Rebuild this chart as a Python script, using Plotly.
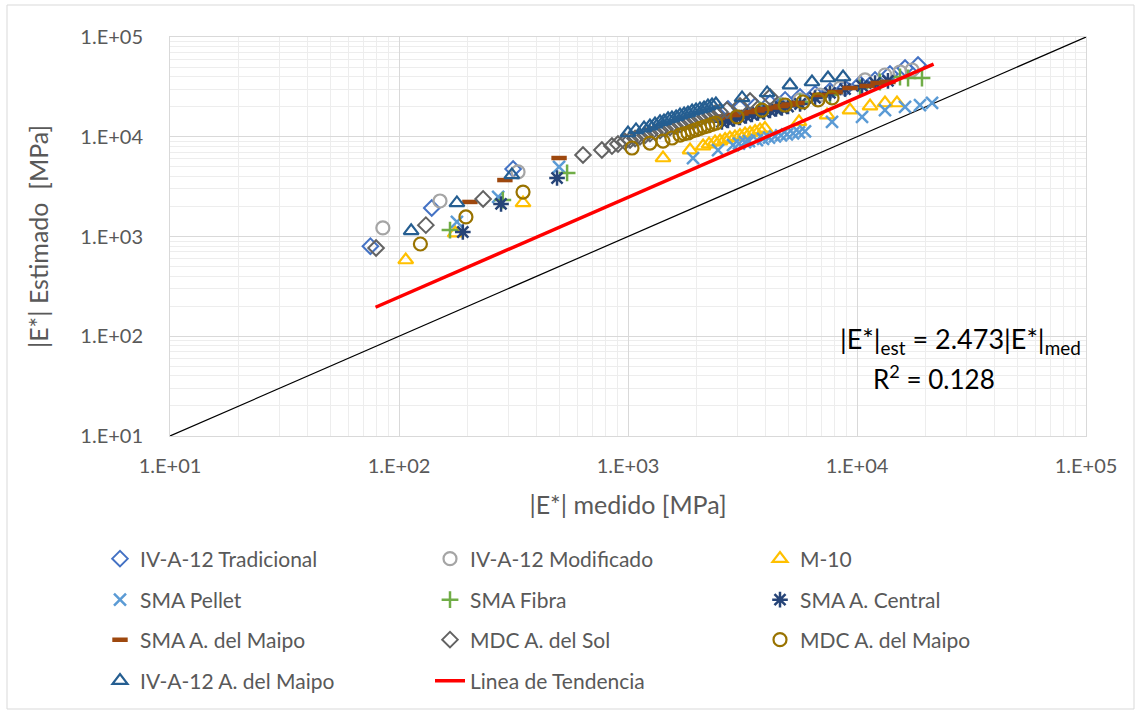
import plotly.graph_objects as go

# |E*| medido [MPa] vs |E*| estimado [MPa] for each mixture
trad_med = [75, 139, 315, 2733, 3083, 3590, 4170, 4853, 5640, 6560, 7620, 8870, 10310, 11990, 13930, 16210, 18470]
trad_est = [800, 1930, 4750, 19000, 19400, 20300, 21800, 23400, 25000, 26800, 28800, 30800, 33800, 37100, 42600, 48900, 52400]

modif_med = [85, 151, 331, 4610, 5640, 6890, 8440, 10840, 13250, 15410, 17390]
modif_est = [1220, 2270, 4440, 21300, 23400, 26200, 30800, 37100, 41600, 44600, 46700]

m10_med = [107, 176, 348, 1422, 1866, 2128, 2259, 2399, 2523, 2655, 2786, 2933, 3083, 3243, 3412, 3590,
           3770, 3963, 5580, 7400, 9320, 11400, 13250, 14950]
m10_est = [581, 1080, 2170, 6120, 7360, 8070, 8450, 8850, 9060, 9380, 9710, 9950, 10300, 10660, 10900, 11300,
           11700, 12110, 14100, 16500, 18500, 20300, 21800, 21800]

pellet_med = [179, 271, 500, 1923, 2473, 2875, 3053, 3243, 3375, 3656, 3890, 4130, 4385, 4660, 4945, 5260,
              5580, 5930, 7780, 10520, 13250, 16210, 18840, 21270]
pellet_est = [1400, 2490, 4980, 6120, 7360, 8260, 8550, 8850, 9060, 9270, 9500, 9820, 10060, 10300, 10550, 10800,
              11050, 11310, 14100, 15800, 18500, 19900, 20800, 21800]

fibra_med = [167, 284, 542, 3770, 4610, 5640, 7620, 10310, 12590, 15410, 16710, 19220]
fibra_est = [1160, 2320, 4340, 18500, 20300, 22300, 26200, 30800, 35400, 39700, 38800, 38800]

central_med = [190, 279, 490, 2572, 2733, 2904, 3083, 3273, 3476, 3694, 3927, 4170, 4430, 4700, 5000, 5640,
               6560, 7620, 8870, 10520, 11990, 13650]
central_est = [1110, 2120, 3860, 14100, 14550, 15070, 15600, 16150, 16720, 17300, 17700, 18330, 18970, 19400,
               20100, 21300, 24500, 27500, 30100, 32300, 34600, 36300]

sma_maipo_med = [204, 290, 500, 2449, 2655, 2875, 3112, 3375, 3656, 3963, 4296, 4660, 5047, 5470, 6890, 8020,
                 9320, 11060, 12360, 13650]
sma_maipo_est = [2220, 3680, 6120, 15400, 15960, 16500, 17100, 17700, 18330, 18970, 19630, 20320, 21030, 21800,
                 26200, 28100, 30800, 32300, 34600, 35400]

mdc_sol_med = [79.4, 131, 233, 636, 769, 851, 904, 970, 1021, 1074, 1128, 1187, 1247, 1312, 1380, 1451, 1525,
               1604, 1687, 1774, 1866, 1963, 2062, 2170, 2282, 2399, 2523, 2703, 3083, 3412, 4170]
mdc_sol_est = [767, 1300, 2380, 6560, 7360, 8070, 8450, 8950, 9270, 9610, 9980, 10350, 10740, 11120, 11530,
               11970, 12390, 12820, 13310, 13800, 14290, 14830, 15350, 15920, 16520, 17100, 17720, 18500, 20300,
               22800, 25000]

mdc_maipo_med = [124, 196, 348, 1041, 1247, 1422, 1556, 1687, 1758, 1828, 1905, 1982, 2062, 2148, 2234, 2328,
                 2421, 2994, 3846, 4853, 5810, 6757, 7780]
mdc_maipo_est = [841, 1570, 2790, 7710, 8650, 9060, 9710, 10400, 10720, 10900, 11420, 11700, 12110, 12530,
                 12820, 13280, 13700, 15800, 18500, 20800, 22300, 23400, 24500]

iva_maipo_med = [113, 179, 311, 1000, 1084, 1175, 1247, 1312, 1380, 1436, 1496, 1556, 1622, 1687, 1758, 1828,
                 1905, 1982, 2062, 2148, 2234, 2328, 2421, 3148, 4049, 5097, 6360, 7470, 8690]
iva_maipo_est = [1140, 2170, 4140, 10900, 11700, 12200, 12800, 13400, 14100, 14400, 15100, 15400, 15800, 16500,
                 16900, 17300, 18100, 18500, 19000, 19400, 20300, 20800, 21300, 24500, 27500, 33000, 35400,
                 38800, 39700]

# Trend line |E*|est = 2.473 |E*|med and the line of equality
trend_slope = 2.473
trend_r2 = 0.128
trend_med = [79, 21600]
equal_line = [10, 100000]

tick_vals = [10, 100, 1000, 10000, 100000]
tick_text = ["1.E+01", "1.E+02", "1.E+03", "1.E+04", "1.E+05"]
minor_vals = [m * 10 ** d for d in range(1, 5) for m in range(2, 10)]

FONT = "Lato"
GREY_TXT = "#595959"

# name, x, y, symbol, colour, size, line width, legend row
series = [
    ("IV-A-12 Tradicional", trad_med, trad_est, "diamond-open", "#4472C4", 12, 2, "legend"),
    ("IV-A-12 Modificado", modif_med, modif_est, "circle-open", "#A5A5A5", 13, 2.2, "legend"),
    ("M-10", m10_med, m10_est, "triangle-up-open", "#FFC000", 13, 2.2, "legend"),
    ("SMA Pellet", pellet_med, pellet_est, "x-thin-open", "#5B9BD5", 12, 2.5, "legend2"),
    ("SMA Fibra", fibra_med, fibra_est, "cross-thin-open", "#70AD47", 12, 2.5, "legend2"),
    ("SMA A. Central", central_med, central_est, "asterisk-open", "#264478", 13, 2.5, "legend2"),
    ("SMA A. del Maipo", sma_maipo_med, sma_maipo_est, "line-ew-open", "#9E480E", 11, 4.5, "legend3"),
    ("MDC A. del Sol", mdc_sol_med, mdc_sol_est, "diamond-open", "#636363", 12, 2, "legend3"),
    ("MDC A. del Maipo", mdc_maipo_med, mdc_maipo_est, "circle-open", "#997300", 13, 2.2, "legend3"),
    ("IV-A-12 A. del Maipo", iva_maipo_med, iva_maipo_est, "triangle-up-open", "#255E91", 13, 2.2, "legend4"),
]

fig = go.Figure()

fig.add_trace(go.Scatter(
    x=equal_line, y=equal_line, mode="lines",
    line=dict(color="black", width=1.2), showlegend=False, hoverinfo="skip"))

for name, xs, ys, sym, col, size, lw, leg in series:
    fig.add_trace(go.Scatter(
        x=xs, y=ys, mode="markers", name=name, legend=leg,
        marker=dict(symbol=sym, size=size, color=col, line=dict(color=col, width=lw))))

fig.add_trace(go.Scatter(
    x=trend_med, y=[trend_slope * v for v in trend_med], mode="lines",
    name="Linea de Tendencia", legend="legend4",
    line=dict(color="#FF0000", width=3.5)))

axis_common = dict(
    type="log", range=[1, 5], tickvals=tick_vals, ticktext=tick_text,
    showgrid=True, gridcolor="#D9D9D9", gridwidth=1,
    showline=True, linecolor="#D9D9D9", linewidth=1, mirror=True,
    zeroline=False, ticks="",
    tickfont=dict(family=FONT, size=20, color=GREY_TXT),
    minor=dict(tickvals=minor_vals, showgrid=True, gridcolor="#EDEDED", gridwidth=1, ticks=""),
)

fig.update_xaxes(**axis_common, ticklabelstandoff=12,
                 title=dict(text="|E*| medido [MPa]", font=dict(family=FONT, size=25, color=GREY_TXT),
                            standoff=20))
fig.update_yaxes(**axis_common, ticklabelstandoff=22,
                 title=dict(text="|E*| Estimado \u00a0[MPa]", font=dict(family=FONT, size=25, color=GREY_TXT),
                            standoff=24))

legend_style = dict(
    orientation="h", x=(100 - 170) / 916, xanchor="left", yanchor="middle",
    font=dict(family=FONT, size=21, color=GREY_TXT),
    bgcolor="rgba(0,0,0,0)", entrywidth=285, entrywidthmode="pixels",
    itemwidth=30, traceorder="normal",
)
row_px = [559, 600, 640, 681]
plot_top, plot_bottom = 37, 436
row_y = [(plot_bottom - p) / (plot_bottom - plot_top) for p in row_px]

fig.update_layout(
    width=1138, height=715,
    margin=dict(l=170, r=52, t=37, b=279),
    paper_bgcolor="white", plot_bgcolor="white",
    legend=dict(**legend_style, y=row_y[0]),
    legend2=dict(**legend_style, y=row_y[1]),
    legend3=dict(**legend_style, y=row_y[2]),
    legend4=dict(**legend_style, y=row_y[3]),
    annotations=[
        dict(text="|E*|<sub>est</sub> = 2.473|E*|<sub>med</sub>", xref="paper", yref="paper",
             x=0.997, y=(plot_bottom - 340) / (plot_bottom - plot_top), xanchor="right", yanchor="middle",
             showarrow=False, font=dict(family=FONT, size=27, color="black")),
        dict(text="R<sup>2</sup> = 0.128", xref="paper", yref="paper",
             x=(934 - 170) / 916, y=(plot_bottom - 377) / (plot_bottom - plot_top),
             xanchor="center", yanchor="middle",
             showarrow=False, font=dict(family=FONT, size=26, color="black")),
    ],
    shapes=[dict(type="rect", xref="paper", yref="paper",
                 x0=(7 - 170) / 916, x1=(1134 - 170) / 916,
                 y0=(plot_bottom - 709) / 399, y1=(plot_bottom - 5) / 399,
                 line=dict(color="#D9D9D9", width=1), fillcolor="rgba(0,0,0,0)", layer="below")],
)

fig.write_html("out.html")
